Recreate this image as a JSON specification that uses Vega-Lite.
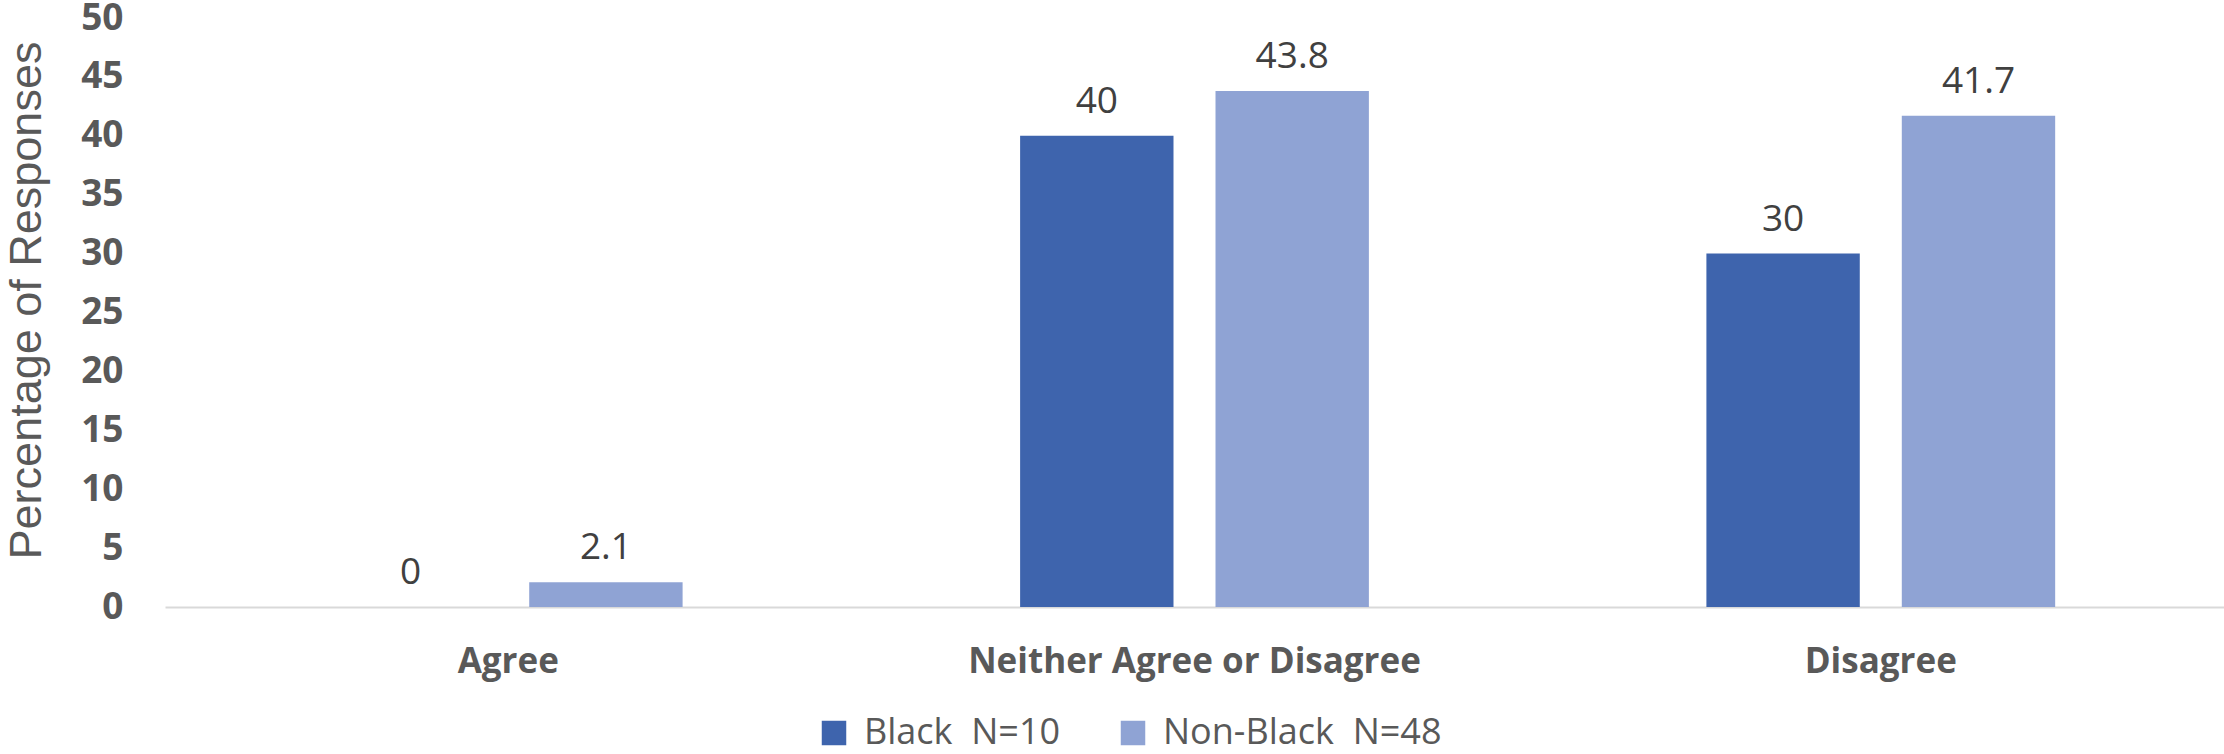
{
  "$schema": "https://vega.github.io/schema/vega-lite/v6.json",
  "width": 2059,
  "height": 589,
  "autosize": {"type": "none"},
  "padding": {"left": 165, "top": 18, "right": 0, "bottom": 147},
  "config": {"view": {"stroke": null}, "font": "Open Sans"},
  "data": {
    "values": [
      {"response": "Agree", "group": "Black\u00a0 N=10", "pct": 0},
      {"response": "Agree", "group": "Non-Black\u00a0 N=48", "pct": 2.1},
      {"response": "Neither Agree or Disagree", "group": "Black\u00a0 N=10", "pct": 40},
      {"response": "Neither Agree or Disagree", "group": "Non-Black\u00a0 N=48", "pct": 43.8},
      {"response": "Disagree", "group": "Black\u00a0 N=10", "pct": 30},
      {"response": "Disagree", "group": "Non-Black\u00a0 N=48", "pct": 41.7}
    ]
  },
  "encoding": {
    "x": {
      "field": "response",
      "type": "nominal",
      "sort": ["Agree", "Neither Agree or Disagree", "Disagree"],
      "scale": {"paddingInner": 0.4918, "paddingOuter": 0.246},
      "axis": {
        "title": null,
        "labelAngle": 0,
        "labelFont": "Open Sans",
        "labelFontWeight": "bold",
        "labelFontSize": 35,
        "labelColor": "#595959",
        "labelLimit": 0,
        "ticks": false,
        "tickSize": 0,
        "labelPadding": 65,
        "labelBaseline": "alphabetic",
        "domainColor": "#d9d9d9",
        "domainWidth": 2
      }
    },
    "xOffset": {
      "field": "group",
      "type": "nominal",
      "sort": ["Black\u00a0 N=10", "Non-Black\u00a0 N=48"],
      "scale": {"paddingInner": 0.215, "paddingOuter": 0}
    },
    "y": {
      "field": "pct",
      "type": "quantitative",
      "scale": {"domain": [0, 50], "nice": false},
      "axis": {
        "values": [0, 5, 10, 15, 20, 25, 30, 35, 40, 45, 50],
        "title": "Percentage of Responses",
        "titleFont": "Liberation Sans",
        "titleFontSize": 45,
        "titleFontWeight": "normal",
        "titleColor": "#595959",
        "titleX": -125,
        "titleY": 282,
        "titleAngle": -90,
        "titleBaseline": "alphabetic",
        "titleAlign": "center",
        "grid": false,
        "domain": false,
        "ticks": false,
        "tickSize": 0,
        "labelPadding": 42,
        "labelFont": "Open Sans",
        "labelFontWeight": "bold",
        "labelFontSize": 37,
        "labelColor": "#595959",
        "labelBaseline": "middle"
      }
    }
  },
  "layer": [
    {
      "mark": {"type": "bar"},
      "encoding": {
        "color": {
          "field": "group",
          "type": "nominal",
          "scale": {
            "domain": ["Black\u00a0 N=10", "Non-Black\u00a0 N=48"],
            "range": ["#3E64AD", "#8FA3D4"]
          },
          "legend": {
            "title": null,
            "orient": "none",
            "direction": "horizontal",
            "legendX": 651,
            "legendY": 697,
            "padding": 0,
            "symbolType": "square",
            "symbolSize": 600,
            "symbolStrokeWidth": 0,
            "labelOffset": 12,
            "columnPadding": 54,
            "labelFont": "Open Sans",
            "labelFontSize": 36,
            "labelColor": "#595959",
            "labelLimit": 600
          }
        }
      }
    },
    {
      "mark": {
        "type": "text",
        "dy": -23,
        "baseline": "alphabetic",
        "fontSize": 37,
        "font": "Open Sans",
        "color": "#404040"
      },
      "encoding": {
        "text": {"field": "pct", "type": "quantitative"}
      }
    }
  ]
}
